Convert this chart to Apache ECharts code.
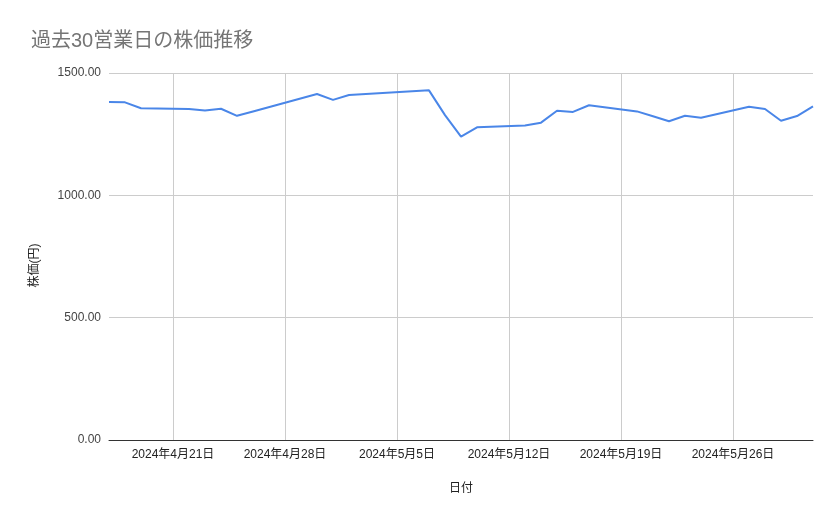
<!DOCTYPE html>
<html>
<head>
<meta charset="utf-8">
<script src="https://cdn.jsdelivr.net/npm/echarts@6/dist/echarts.min.js"></script>
<style>
html,body{margin:0;padding:0;background:#fff;}
#c{width:839px;height:519px;}
</style>
</head>
<body>
<div id="c"></div>
<script>
const dates = ['2024-04-17','2024-04-18','2024-04-19','2024-04-22','2024-04-23','2024-04-24','2024-04-25','2024-04-26','2024-04-30','2024-05-01','2024-05-02','2024-05-07','2024-05-08','2024-05-09','2024-05-10','2024-05-13','2024-05-14','2024-05-15','2024-05-16','2024-05-17','2024-05-20','2024-05-21','2024-05-22','2024-05-23','2024-05-24','2024-05-27','2024-05-28','2024-05-29','2024-05-30','2024-05-31'];
const prices = [1381,1380,1356,1353,1347,1354,1325,1343,1414,1390,1410,1429,1328,1240,1278,1285,1297,1346,1341,1368,1343,1323,1303,1325,1317,1362,1353,1305,1324,1364];
const tickDates = ['2024-04-21','2024-04-28','2024-05-05','2024-05-12','2024-05-19','2024-05-26'];
const xStart = '2024-04-17';
const xEnd = '2024-05-31';
const yTicks = [0, 500, 1000, 1500];

const DAY = 86400000;
const base = Date.UTC(2024, 3, 21);
function dayNum(s){ const p = s.split('-').map(Number); return Math.round((Date.UTC(p[0], p[1]-1, p[2]) - base) / DAY); }
function fmt(v){ const d = new Date(base + v * DAY); return d.getUTCFullYear() + '年' + (d.getUTCMonth()+1) + '月' + d.getUTCDate() + '日'; }

const chart = echarts.init(document.getElementById('c'));
const font = '"Liberation Sans", "Noto Sans CJK JP", sans-serif';
const tickVals = tickDates.map(dayNum);
chart.setOption({
  animation: false,
  textStyle: { fontFamily: font },
  title: {
    text: '過去30営業日の株価推移',
    left: 26, top: 26,
    textStyle: { fontSize: 20, fontWeight: 'normal', color: '#757575', fontFamily: font }
  },
  grid: { left: 109, right: 26, top: 73, bottom: 79, containLabel: false },
  xAxis: {
    type: 'value',
    min: dayNum(xStart), max: dayNum(xEnd),
    name: '日付', nameLocation: 'middle', nameGap: 43,
    nameTextStyle: { fontSize: 12, color: '#222', fontFamily: font },
    axisLine: { show: true, lineStyle: { color: '#333', width: 1 } },
    axisTick: { show: false, customValues: tickVals },
    splitLine: { show: true, lineStyle: { color: '#cccccc', width: 1 } },
    axisLabel: {
      customValues: tickVals,
      color: '#222', fontSize: 12, margin: 9,
      formatter: fmt
    }
  },
  yAxis: {
    type: 'value',
    min: yTicks[0], max: yTicks[yTicks.length-1], interval: 500,
    name: '株価(円)', nameLocation: 'middle', nameGap: 68, nameRotate: 90,
    nameTextStyle: { fontSize: 12, color: '#222', fontFamily: font, padding: [0, 18, 0, 0] },
    axisLine: { show: false },
    axisTick: { show: false },
    splitLine: { show: true, lineStyle: { color: '#cccccc', width: 1 } },
    axisLabel: { color: '#444', fontSize: 12, margin: 8, formatter: v => v.toFixed(2) }
  },
  series: [{
    type: 'line',
    data: dates.map((d, i) => [dayNum(d), prices[i]]),
    showSymbol: false,
    symbol: 'none',
    lineStyle: { color: '#4a86e8', width: 2 },
    itemStyle: { color: '#4a86e8' }
  }]
});
</script>
</body>
</html>
